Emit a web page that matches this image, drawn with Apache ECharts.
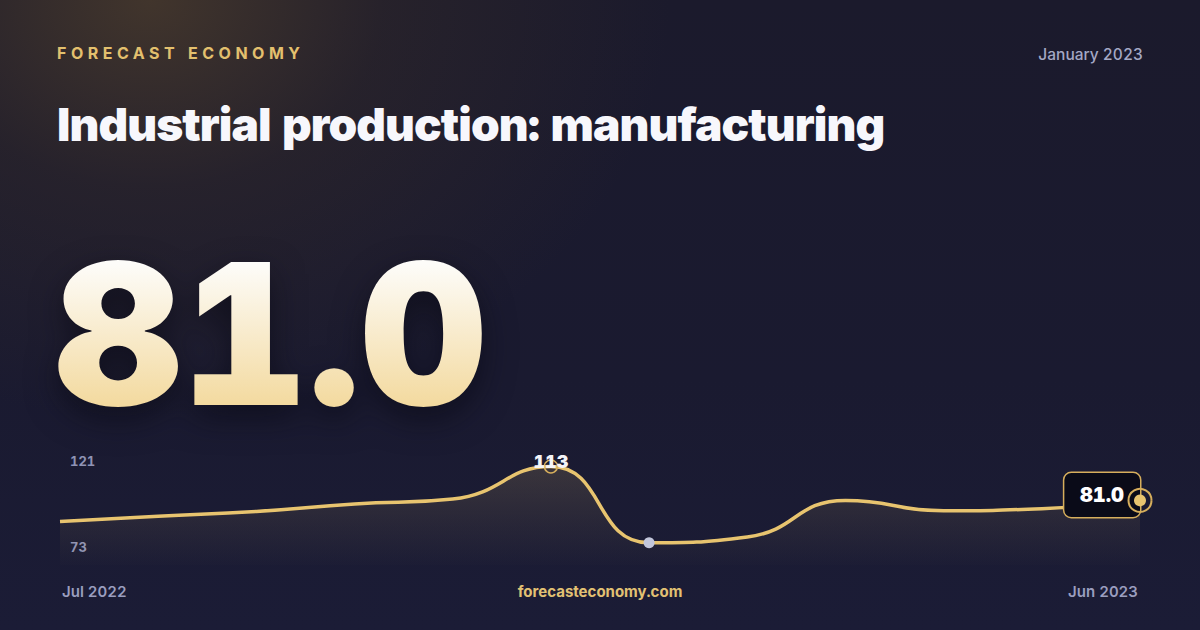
<!DOCTYPE html>
<html>
<head>
<meta charset="utf-8">
<script src="https://cdn.jsdelivr.net/npm/echarts@6/dist/echarts.min.js"></script>
<style>
  html, body { margin: 0; padding: 0; }
  body {
    width: 1200px; height: 630px; overflow: hidden; position: relative;
    background:
      radial-gradient(ellipse 520px 420px at 150px 0px, rgba(78, 62, 44, 0.75) 0%, rgba(60, 48, 40, 0.35) 45%, rgba(40, 34, 40, 0) 100%),
      linear-gradient(180deg, #1b1a2c 0%, #1a1a30 60%, #1b1c36 100%);
    font-family: Inter, "Noto Sans", sans-serif;
    font-feature-settings: "tnum" 1;
  }
  #chart { position: absolute; left: 0; top: 0; width: 1200px; height: 630px; }
  #chart text { font-feature-settings: "tnum" 1; }
  .txt { position: absolute; white-space: nowrap; line-height: 1; }
  #brand { left: 57px; top: 44.5px; font-size: 16px; font-weight: 700; letter-spacing: 4.5px; color: #e3c06e; }
  #date { right: 57px; top: 46.5px; font-size: 15.5px; font-weight: 500; color: #a4a8c5; }
  #title { left: 57px; top: 100.5px; font-size: 46px; font-weight: 900; letter-spacing: -0.02em; color: #f7f7fc; }
  #big {
    left: 55px; top: 236px; font-size: 196px; font-weight: 900;
    background: linear-gradient(180deg, #fdfcf9 14%, #f3d99d 88%);
    -webkit-background-clip: text; background-clip: text; color: transparent;
    filter: drop-shadow(0 12px 16px rgba(5, 5, 15, 0.55));
  }
  #site { left: 0; width: 1200px; text-align: center; top: 584px; font-size: 15px; font-weight: 700; color: #e2c173; }
</style>
</head>
<body>
<div id="chart"></div>
<div class="txt" id="brand">FORECAST ECONOMY</div>
<div class="txt" id="date">January 2023</div>
<div class="txt" id="title">Industrial production: manufacturing</div>
<div class="txt" id="big">81.0</div>
<div class="txt" id="site">forecasteconomy.com</div>
<script>
// ---- data ----
const months = ['Jul 2022', 'Aug 2022', 'Sep 2022', 'Oct 2022', 'Nov 2022', 'Dec 2022',
                'Jan 2023', 'Feb 2023', 'Mar 2023', 'Apr 2023', 'May 2023', 'Jun 2023'];
const values = [61.0, 66.0, 70.6, 77.6, 82.3, 113.0, 40.9, 46.5, 81.0, 71.3, 73.2, 81.0];
const yTickLabels = [73, 121];
const actualMonth = 'Jan 2023';

const GOLD = '#e8c46f';
const GOLD_DARK = '#d6ae5c';
const FONT = 'Inter';

const peakIdx = values.indexOf(Math.max(...values));
const actualIdx = months.indexOf(actualMonth);
const lastIdx = values.length - 1;

const chart = echarts.init(document.getElementById('chart'), null, { renderer: 'svg' });

chart.setOption({
  backgroundColor: 'transparent',
  animation: false,
  textStyle: { fontFamily: FONT },
  grid: [
    { left: 60, right: 60, top: 458, bottom: 65 },
    { left: 60, right: 60, top: 461, bottom: 83 }
  ],
  xAxis: [
    {
      type: 'category', gridIndex: 0, data: months, boundaryGap: false,
      axisLine: { show: false }, axisTick: { show: false }, splitLine: { show: false },
      axisLabel: {
        interval: (i) => i === 0 || i === months.length - 1,
        alignMinLabel: 'left', alignMaxLabel: 'right',
        padding: [0, 2, 0, 2],
        color: '#9a9ebf', fontSize: 15, fontWeight: 600, margin: 19, lineHeight: 15, fontFamily: FONT
      }
    },
    { type: 'value', gridIndex: 1, show: false, min: 0, max: 1 }
  ],
  yAxis: [
    {
      type: 'value', gridIndex: 0, min: 20, max: 121,
      axisLine: { show: false }, axisTick: { show: false }, splitLine: { show: false },
      axisLabel: { show: false }
    },
    {
      type: 'value', gridIndex: 1,
      min: yTickLabels[0], max: yTickLabels[yTickLabels.length - 1],
      interval: yTickLabels[1] - yTickLabels[0],
      axisLine: { show: false }, axisTick: { show: false }, splitLine: { show: false },
      axisLabel: { inside: true, margin: 10, color: '#8f93b4', fontSize: 13, fontWeight: 700, fontFamily: FONT }
    }
  ],
  series: [
    {
      type: 'line', xAxisIndex: 0, yAxisIndex: 0, z: 2,
      data: values, smooth: true, showSymbol: false, symbol: 'none',
      lineStyle: { color: GOLD, width: 3.5 },
      areaStyle: {
        color: {
          type: 'linear', x: 0, y: 0, x2: 0, y2: 1,
          colorStops: [
            { offset: 0, color: 'rgba(232,196,111,0.22)' },
            { offset: 0.55, color: 'rgba(232,196,111,0.10)' },
            { offset: 1, color: 'rgba(232,196,111,0.01)' }
          ]
        }
      }
    },
    {
      type: 'scatter', z: 4,
      data: [[peakIdx, values[peakIdx]]],
      symbol: 'circle', symbolSize: 13,
      itemStyle: { color: 'rgba(0,0,0,0)', borderColor: GOLD_DARK, borderWidth: 1.5, opacity: 1 },
      label: {
        show: true, position: 'inside', offset: [0, -5],
        formatter: (p) => String(Math.round(p.value[1])),
        color: '#f4f4f8', fontSize: 18, fontWeight: 900, fontFamily: FONT
      }
    },
    {
      type: 'scatter', z: 4,
      data: [[actualIdx, values[actualIdx]]],
      symbol: 'circle', symbolSize: 11,
      itemStyle: { color: '#c3c7dc', opacity: 1 }
    },
    {
      type: 'scatter', z: 5,
      data: [[lastIdx, values[lastIdx]]],
      symbol: 'circle', symbolSize: 22,
      itemStyle: { color: 'rgba(0,0,0,0)', opacity: 1 },
      label: {
        show: true, position: [11, 5.6], align: 'right', verticalAlign: 'middle',
        formatter: (p) => p.value[1].toFixed(1),
        color: '#ffffff', fontSize: 20, fontWeight: 900, lineHeight: 21, fontFamily: FONT,
        backgroundColor: '#0a0b18', borderColor: GOLD_DARK, borderWidth: 1.5, borderRadius: 7,
        padding: [9.5, 16, 13.5, 16]
      }
    },
    {
      type: 'scatter', z: 6,
      data: [[lastIdx, values[lastIdx]]],
      symbol: 'circle', symbolSize: 23,
      itemStyle: { color: 'rgba(0,0,0,0)', borderColor: GOLD_DARK, borderWidth: 2, opacity: 1 }
    },
    {
      type: 'scatter', z: 7,
      data: [[lastIdx, values[lastIdx]]],
      symbol: 'circle', symbolSize: 12,
      itemStyle: { color: GOLD, opacity: 1 }
    }
  ]
});
</script>
</body>
</html>
